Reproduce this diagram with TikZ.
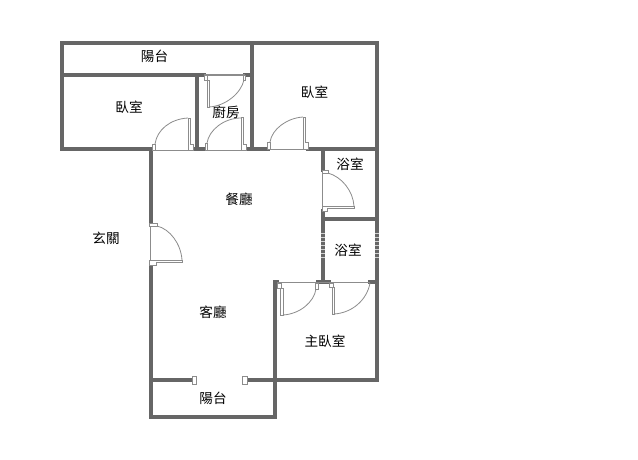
\documentclass[tikz,border=0pt]{standalone}
\usepackage{fontspec}
\newfontfamily\cjk{Noto Sans CJK TC}
\definecolor{wallc}{HTML}{666666}
\definecolor{doorc}{HTML}{8C8C8C}
\tikzset{
  wall/.style={draw=wallc,line width=3.6pt,line cap=rect},
  thin door/.style={draw=doorc,line width=0.8pt},
  hatch/.style={draw=white!70!wallc,line width=3.8pt,dash pattern=on 1pt off 3pt},
  room/.style={font=\cjk\fontsize{13.6}{14}\selectfont,text=black,inner sep=0pt}
}
\begin{document}
\begin{tikzpicture}[x=1pt,y=-1pt]
\useasboundingbox[fill=white] (0,0) rectangle (638,460);
% walls
\draw[wall] (62,43) -- (377,43) -- (377,380) -- (245,380);
\draw[wall] (62,43) -- (62,149) -- (152,149);
\draw[wall] (62,75) -- (204,75);
\draw[wall] (245,75) -- (252,75);
\draw[wall] (252,43) -- (252,149);
\draw[wall] (197,75) -- (197,149);
\draw[wall] (195,149) -- (206,149);
\draw[wall] (245,149) -- (268,149);
\draw[wall] (308,149) -- (377,149);
\draw[wall] (323,149) -- (323,170);
\draw[wall] (323,211) -- (323,282);
\draw[wall] (323,219) -- (377,219);
\draw[wall] (275,282) -- (277,282);
\draw[wall] (318,282) -- (329,282);
\draw[wall] (370,282) -- (377,282);
\draw[wall] (275,282) -- (275,417) -- (151,417) -- (151,265);
\draw[wall] (151,223) -- (151,149);
\draw[wall] (151,380) -- (192,380);
% windows
\draw[hatch] (323,233) -- (323,260);
\draw[hatch] (377,233) -- (377,260);
% thin threshold lines
\draw[thin door,line width=1.4pt] (277,282.5) -- (370,282.5);
\draw[thin door,line width=1.2pt] (204,75) -- (245,75);
\draw[thin door,line width=0.5pt] (152,150) -- (193,150);
\draw[thin door,line width=0.5pt] (205,150) -- (246,150);
\draw[thin door,line width=0.5pt] (267,149.5) -- (308,149.5);
% bedroom door
\draw[thin door,fill=white] (152,144) rectangle (155,150);
\draw[thin door,fill=white] (188,118) -- (190,118) -- (190,144) -- (193,144) -- (193,150) -- (188,150) -- cycle;
\draw[thin door] (155,144) .. controls (157,130) and (170,119) .. (188,118);
% kitchen doors
\draw[thin door,fill=white] (204,75) rectangle (207,80);
\draw[thin door,fill=white] (207,80) rectangle (209,107);
\draw[thin door,fill=white] (243,75) rectangle (245,80);
\draw[thin door] (209,107) .. controls (226,106) and (241,93) .. (244,80);
\draw[thin door,fill=white] (205,143) rectangle (207,150);
\draw[thin door,fill=white] (241,117) -- (243.5,117) -- (243.5,144) -- (246,144) -- (246,150) -- (241,150) -- cycle;
\draw[thin door] (207,143) .. controls (209,130) and (224,118) .. (241,118);
% right bedroom door
\draw[thin door,fill=white] (267,142) rectangle (270,149);
\draw[thin door,fill=white] (303,117) -- (305,117) -- (305,142) -- (308,142) -- (308,149) -- (303,149) -- cycle;
\draw[thin door] (270,142) .. controls (272,129) and (287,118) .. (303,117);
% bath door
\draw[thin door] (322,170) -- (322,211);
\draw[thin door,fill=white] (322,170) rectangle (328,173);
\draw[thin door,fill=white] (354,206) -- (354,208.5) -- (327,208.5) -- (327,211) -- (322,211) -- (322,206) -- cycle;
\draw[thin door] (328,173) .. controls (342,177) and (353,191) .. (354,206);
% entrance door
\draw[thin door] (150,223) -- (150,265);
\draw[thin door,fill=white] (149.5,223) rectangle (157,226);
\draw[thin door,fill=white] (182,260) -- (182,262) -- (156,262) -- (156,265) -- (149.5,265) -- (149.5,260) -- cycle;
\draw[thin door] (157,226) .. controls (170,229) and (181,244) .. (182,260);
% master doors
\draw[thin door,fill=white] (277,283) rectangle (281,288);
\draw[thin door,fill=white] (280,288) rectangle (283,315);
\draw[thin door,fill=white] (315,283) rectangle (318,289);
\draw[thin door] (283,315) .. controls (300,314) and (314,302) .. (316,289);
\draw[thin door,fill=white] (329,283) rectangle (333,287);
\draw[thin door,fill=white] (332,287) rectangle (334,314);
\draw[thin door] (334,314) .. controls (352,313) and (367,300) .. (370,283);
% balcony posts
\draw[thin door,fill=white] (192,376) rectangle (196,384);
\draw[thin door,fill=white] (242,376) rectangle (247,384);
% labels
\node[room] (balconyA) at (154.5,56.5) {陽台};
\node[room] (bedA) at (129,107.5) {臥室};
\node[room] (kitchen) at (226,112.5) {廚房};
\node[room] (bedB) at (314.5,92.5) {臥室};
\node[room] (bathA) at (350,164.5) {浴室};
\node[room] (dining) at (239,199.5) {餐廳};
\node[room] (entry) at (106,238.5) {玄關};
\node[room] (bathB) at (348,250.5) {浴室};
\node[room] (living) at (213,312.5) {客廳};
\node[room] (master) at (325,341.5) {主臥室};
\node[room] (balconyB) at (213,398.5) {陽台};
\end{tikzpicture}
\end{document}
